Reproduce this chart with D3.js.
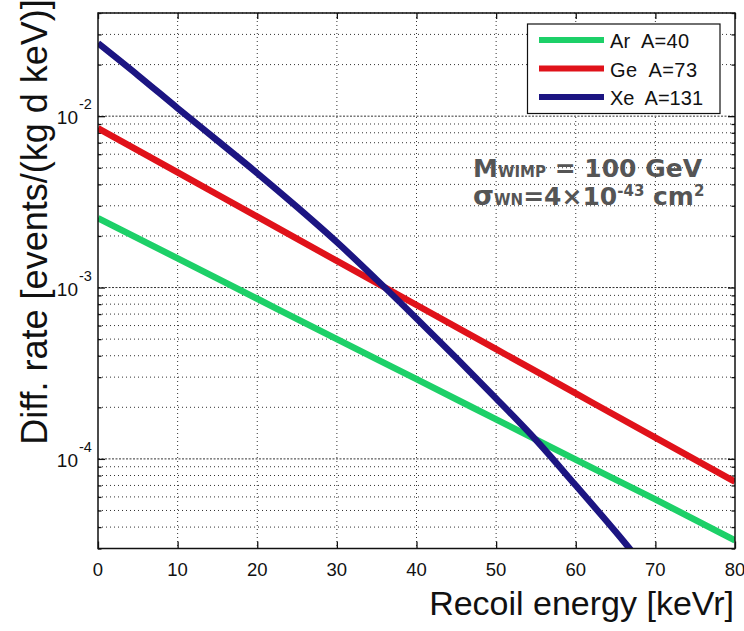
<!DOCTYPE html>
<html><head><meta charset="utf-8">
<script src="https://cdn.jsdelivr.net/npm/d3@7"></script>
<style>body{margin:0;background:#fff}svg{display:block;font-family:"Liberation Sans",Arial,sans-serif}</style>
</head><body>
<svg id="c" width="744" height="631"></svg>
<script>
// ---- data ----
const energy10 = [0,10,20,30,40,50,60,70,80];
const arRate = [2.54e-3,1.48e-3,8.6e-4,5.0e-4,2.92e-4,1.70e-4,9.9e-5,5.8e-5,3.35e-5];
const geRate = [8.51e-3,4.70e-3,2.59e-3,1.43e-3,7.91e-4,4.37e-4,2.41e-4,1.33e-4,7.36e-5];
const xeEnergy = [0,5,10,15,20,25,30,35,40,45,50,55,60,65,70];
const xeRate = [2.666e-2,1.735e-2,1.113e-2,7.2e-3,4.65e-3,2.95e-3,1.84e-3,1.11e-3,6.6e-4,3.88e-4,2.25e-4,1.29e-4,7.0e-5,3.76e-5,1.96e-5];
const seriesNames = ["Ar  A=40","Ge  A=73","Xe  A=131"];
const seriesColors = ["#1dd068","#e0121a","#1c1582"];
const xTickValues = [0,10,20,30,40,50,60,70,80];
const yDecades = [1e-4,1e-3,1e-2];
const yDecadeExp = ["-4","-3","-2"];

const svg = d3.select("#c");
const L=98, R=735, T=13, B=548.5;
const x = d3.scaleLinear().domain([0,80]).range([L,R]);
const y = d3.scaleLog().domain([3e-5,4e-2]).range([B,T]);

// grid
const g = svg.append("g");
const minor = y.ticks().filter(v => !yDecades.some(d => Math.abs(d-v)/d<1e-6));
g.selectAll(".hm").data(minor).enter().append("line")
  .attr("x1",L).attr("x2",R).attr("y1",d=>y(d)).attr("y2",d=>y(d))
  .attr("stroke","#333").attr("stroke-width",1).attr("stroke-dasharray","1,3");
g.selectAll(".hM").data(yDecades).enter().append("line")
  .attr("x1",L).attr("x2",R).attr("y1",d=>y(d)).attr("y2",d=>y(d))
  .attr("stroke","#333").attr("stroke-width",1).attr("stroke-dasharray","2,1.5");
g.selectAll(".v").data(xTickValues.slice(1,-1)).enter().append("line")
  .attr("x1",d=>x(d)).attr("x2",d=>x(d)).attr("y1",T).attr("y2",B)
  .attr("stroke","#333").attr("stroke-width",1).attr("stroke-dasharray","1,3");

// axes (ticks inward on all sides)
const axB = d3.axisBottom(x).tickValues(xTickValues).tickSize(-7).tickFormat("");
const axT = d3.axisTop(x).tickValues(xTickValues).tickSize(-6).tickFormat("");
svg.append("g").attr("transform",`translate(0,${B})`).call(axB);
svg.append("g").attr("transform",`translate(0,${T})`).call(axT);
const axL = d3.axisLeft(y).tickValues(minor).tickSize(-3.5).tickFormat("");
const axLM = d3.axisLeft(y).tickValues(yDecades).tickSize(-7).tickFormat("");
const axR = d3.axisRight(y).tickValues(minor).tickSize(-3.5).tickFormat("");
const axRM = d3.axisRight(y).tickValues(yDecades).tickSize(-7).tickFormat("");
svg.append("g").attr("transform",`translate(${L},0)`).call(axL);
svg.append("g").attr("transform",`translate(${L},0)`).call(axLM);
svg.append("g").attr("transform",`translate(${R},0)`).call(axR);
svg.append("g").attr("transform",`translate(${R},0)`).call(axRM);
svg.selectAll(".domain").remove();
svg.selectAll(".tick line").attr("stroke","#111").attr("stroke-width",1.3);

// curves
svg.append("clipPath").attr("id","clip").append("rect")
  .attr("x",L).attr("y",T).attr("width",R-L).attr("height",B-T);
const line = d3.line().x(d=>x(d[0])).y(d=>y(d[1])).curve(d3.curveMonotoneX);
const series = [
  energy10.map((e,i)=>[e,arRate[i]]),
  energy10.map((e,i)=>[e,geRate[i]]),
  xeEnergy.map((e,i)=>[e,xeRate[i]])
];
svg.append("g").attr("clip-path","url(#clip)").selectAll("path").data(series).enter()
  .append("path").attr("d",line).attr("fill","none")
  .attr("stroke",(d,i)=>seriesColors[i]).attr("stroke-width",6.5)
  .attr("stroke-linecap","butt");

// frame
svg.append("rect").attr("x",L).attr("y",T).attr("width",R-L).attr("height",B-T)
  .attr("fill","none").attr("stroke","#111").attr("stroke-width",1.5);

// x tick labels
svg.append("g").selectAll("text").data(xTickValues).enter().append("text")
  .attr("x",d=>x(d)).attr("y",576).attr("text-anchor","middle")
  .attr("font-size",18.5).attr("fill","#111").text(d=>d);

// y tick labels
const yl = svg.append("g").selectAll("g").data(yDecades).enter().append("g");
yl.append("text").attr("x",78).attr("y",d=>y(d)+8).attr("text-anchor","end")
  .attr("font-size",19).attr("fill","#111").text("10");
yl.append("text").attr("x",79).attr("y",d=>y(d)-7).attr("font-size",14.5)
  .attr("fill","#111").text((d,i)=>yDecadeExp[i]);

// axis titles
svg.append("text").attr("transform","translate(47,222) rotate(-90)")
  .attr("text-anchor","middle").attr("font-size",36).attr("fill","#111")
  .text("Diff. rate [events/(kg d keV)]");
svg.append("text").attr("x",734).attr("y",615).attr("text-anchor","end")
  .attr("font-size",34).attr("fill","#111").text("Recoil energy [keVr]");

// legend
const lg = svg.append("g");
lg.append("rect").attr("x",527.5).attr("y",24).attr("width",192.5).attr("height",89.5)
  .attr("fill","#fff").attr("stroke","#111").attr("stroke-width",1.2);
const legW = [79,87,93];
seriesNames.forEach((n,i)=>{
  const yy = 40 + i*28.5;
  lg.append("line").attr("x1",539).attr("x2",604).attr("y1",yy).attr("y2",yy)
    .attr("stroke",seriesColors[i]).attr("stroke-width",6);
  lg.append("text").attr("x",610).attr("y",yy+8).attr("font-size",20)
    .attr("fill","#111").attr("textLength",legW[i]).attr("lengthAdjust","spacing")
    .attr("xml:space","preserve").text(n);
});

// annotation
const an = svg.append("g").attr("fill","#555").attr("font-weight","bold")
  .attr("font-family","'DejaVu Sans',sans-serif");
const t1 = an.append("text").attr("x",473).attr("y",177).attr("font-size",25)
  .attr("xml:space","preserve");
t1.append("tspan").text("M");
t1.append("tspan").attr("font-size",15).text("WIMP");
t1.append("tspan").text(" = 100 GeV");
const t2 = an.append("text").attr("x",473).attr("y",205).attr("font-size",25)
  .attr("xml:space","preserve");
t2.append("tspan").attr("font-size",27).text("σ");
t2.append("tspan").attr("font-size",15).text("WN");
t2.append("tspan").text("=4×10");
t2.append("tspan").attr("font-size",15).attr("dy",-9).text("-43");
t2.append("tspan").attr("dy",9).text(" cm");
t2.append("tspan").attr("font-size",15).attr("dy",-9).text("2");
</script>
</body></html>
